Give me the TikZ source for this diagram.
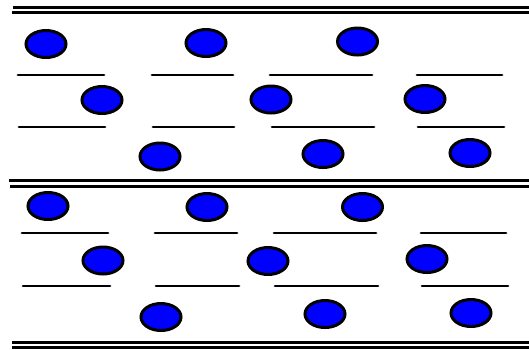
\documentclass[tikz,border=0pt]{standalone}
\usetikzlibrary{shapes.geometric}
\definecolor{ballblue}{RGB}{0,0,255}
\begin{document}
\begin{tikzpicture}[x=1pt,y=-1pt,
  ball/.style={ellipse,draw=black,fill=ballblue,line width=3pt,minimum width=40pt,minimum height=27pt,inner sep=0pt},
  wall/.style={draw=black,line width=3pt},
  shelf/.style={draw=black,line width=2.7pt,line cap=round}]
\useasboundingbox (0,0) rectangle (529,349);
% double walls
\draw[wall] (13,7) -- (529,7);
\draw[wall] (12,12.5) -- (529,12.5);
\draw[wall] (9,180) -- (529,180);
\draw[wall] (10,186) -- (529,186);
\draw[wall] (12,342) -- (529,342);
\draw[wall] (12,347) -- (529,347);
% upper section
\node[ball] (a1) at (46,44) {};
\node[ball] (a2) at (206,43) {};
\node[ball] (a3) at (357.5,41.5) {};
\draw[shelf] (18,75) -- (104,75);
\draw[shelf] (152,75) -- (233,75);
\draw[shelf] (270,75) -- (372,75);
\draw[shelf] (417,75) -- (502,75);
\node[ball] (a4) at (102,100) {};
\node[ball] (a5) at (271,99.5) {};
\node[ball] (a6) at (425,99) {};
\draw[shelf] (19,127) -- (105,127);
\draw[shelf] (153,127) -- (234,127);
\draw[shelf] (272,127) -- (374,127);
\draw[shelf] (418,127) -- (504,127);
\node[ball] (a7) at (160,156.5) {};
\node[ball] (a8) at (323,154) {};
\node[ball] (a9) at (470,153) {};
% lower section
\node[ball] (b1) at (48,206) {};
\node[ball] (b2) at (207,207) {};
\node[ball] (b3) at (362.5,207) {};
\draw[shelf] (22,233) -- (108,233);
\draw[shelf] (155,233) -- (237,233);
\draw[shelf] (274,233) -- (376,233);
\draw[shelf] (421,233) -- (506,233);
\node[ball] (b4) at (103,260.5) {};
\node[ball] (b5) at (268,261) {};
\node[ball] (b6) at (427,259) {};
\draw[shelf] (23,286) -- (110,286);
\draw[shelf] (156,286) -- (239,286);
\draw[shelf] (275,286) -- (378,286);
\draw[shelf] (422,286) -- (508,286);
\node[ball] (b7) at (161,317) {};
\node[ball] (b8) at (325,314) {};
\node[ball] (b9) at (471,313) {};
\end{tikzpicture}
\end{document}
